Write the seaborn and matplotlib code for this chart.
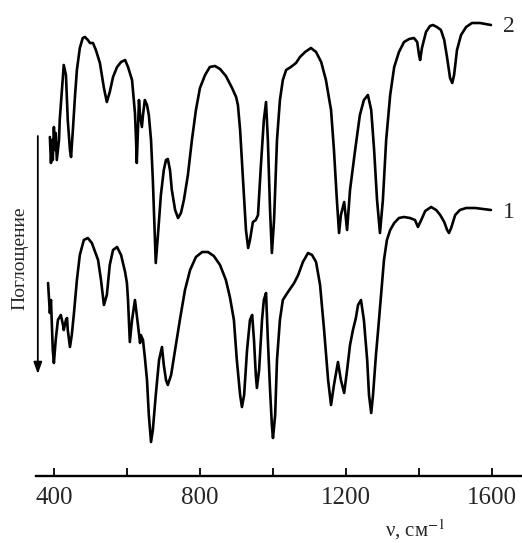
import numpy as np
import pandas as pd
import seaborn as sns
import matplotlib
matplotlib.use("Agg")
import matplotlib.pyplot as plt

# ---------------- data ----------------
# spectrum 2 (upper trace): wavenumber, cm-1 and transmission (arbitrary units)
nu2 = [389, 392, 395, 397, 400, 403, 405, 408, 414, 416, 422, 427, 433, 438, 444, 447,
       452, 458, 463, 471, 479, 485, 493, 499, 507, 515, 526, 537, 545, 553, 562, 573,
       584, 595, 603, 614, 619, 622, 625, 627, 630, 633, 636, 641, 644, 649, 655, 660,
       666, 671, 677, 679, 685, 693, 701, 707, 712, 718, 723, 732, 740, 748, 756, 767,
       778, 789, 800, 814, 827, 841, 855, 871, 888, 899, 904, 910, 918, 926, 932, 937,
       945, 953, 959, 967, 975, 981, 986, 992, 997, 1003, 1011, 1019, 1027, 1036, 1049,
       1063, 1074, 1088, 1104, 1118, 1132, 1145, 1159, 1167, 1175, 1181, 1186, 1195,
       1200, 1203, 1211, 1225, 1238, 1249, 1260, 1269, 1277, 1285, 1293, 1301, 1310,
       1321, 1332, 1345, 1359, 1373, 1386, 1395, 1400, 1403, 1408, 1419, 1430, 1438,
       1449, 1460, 1469, 1477, 1485, 1491, 1496, 1504, 1515, 1529, 1545, 1567, 1597]
t2 = [339, 313, 336, 316, 349, 326, 343, 316, 336, 356, 386, 411, 401, 356, 326, 319,
      346, 381, 406, 428, 438, 439, 436, 433, 433, 426, 413, 388, 374, 384, 399, 409,
      414, 416, 409, 396, 376, 363, 336, 313, 346, 376, 361, 349, 361, 376, 371, 361,
      336, 296, 236, 213, 241, 281, 306, 316, 317, 306, 286, 266, 258, 263, 276, 301,
      336, 366, 388, 401, 409, 410, 407, 400, 388, 379, 371, 346, 296, 246, 228, 236,
      254, 256, 261, 311, 356, 374, 336, 266, 223, 256, 336, 376, 396, 406, 409,
      413, 419, 424, 428, 424, 414, 396, 366, 326, 276, 243, 261, 274,
      256, 246, 286, 326, 361, 376, 381, 366, 326, 276, 243, 276, 336,
      381, 409, 424, 434, 437, 438, 434, 421, 416, 428, 444, 450, 451,
      449, 446, 436, 418, 398, 393, 401, 426, 441, 449, 453, 453, 451]

# spectrum 1 (lower trace)
nu1 = [384, 386, 389, 392, 395, 397, 400, 405, 411, 419, 425, 427, 433, 436, 438, 444,
       449, 455, 463, 471, 482, 493, 504, 521, 529, 537, 545, 553, 562, 573, 584, 595,
       600, 603, 608, 614, 622, 627, 636, 638, 644, 649, 655, 660, 666, 671, 679, 688,
       696, 701, 707, 712, 721, 732, 745, 759, 773, 789, 806, 822, 838, 855, 871, 882,
       893, 901, 910, 915, 921, 929, 937, 943, 948, 953, 956, 962, 970, 975, 981, 986,
       992, 997, 1000, 1006, 1011, 1019, 1027, 1041, 1058, 1069, 1082, 1096, 1107, 1118,
       1129, 1140, 1151, 1159, 1167, 1178, 1186, 1195, 1203, 1211, 1219, 1227, 1233,
       1241, 1249, 1258, 1263, 1269, 1274, 1282, 1288, 1296, 1304, 1312, 1321, 1332,
       1345, 1359, 1375, 1389, 1397, 1406, 1417, 1433, 1447, 1458, 1469, 1477, 1482,
       1488, 1499, 1512, 1529, 1554, 1575, 1597]
t1 = [193, 181, 163, 176, 146, 126, 113, 136, 156, 161, 151, 146, 156, 158, 146, 129,
      141, 163, 196, 221, 236, 238, 233, 216, 196, 171, 181, 211, 226, 229, 221, 204,
      193, 176, 134, 156, 176, 161, 133, 141, 136, 119, 96, 61, 34, 46, 81, 116,
      129, 111, 96, 91, 101, 126, 156, 186, 206, 219, 224, 224, 220, 211, 196, 179,
      156, 116, 81, 69, 81, 126, 156, 161, 136, 101, 88, 106, 156, 176, 183, 136,
      86, 51, 38, 61, 116, 156, 176, 184, 193, 201, 214, 223, 221, 214,
      191, 146, 96, 71, 91, 114, 96, 83, 106, 131, 146, 158, 171,
      176, 156, 116, 81, 63, 81, 121, 146, 181, 216, 236, 246, 253,
      258, 259, 258, 256, 249, 256, 265, 269, 266, 261, 254, 246, 243,
      248, 261, 266, 268, 268, 267, 266]

xticks_major = [400, 800, 1200, 1600]
xticks_minor = [600, 1000, 1400]
curve_labels = ["2", "1"]
xlabel = "ν, см$^{-1}$"
ylabel = "Поглощение"

# ---------------- plot ----------------
sns.set_style("white")
plt.rcParams["font.family"] = ["Liberation Serif", "DejaVu Serif"]
plt.rcParams["mathtext.fontset"] = "stix"

fig = plt.figure(figsize=(5.22, 5.43), dpi=100)
ax = fig.add_axes([36 / 522, 67 / 543, 1 - 36 / 522, 466 / 543])

df1 = pd.DataFrame({"nu": nu1, "t": t1})
df2 = pd.DataFrame({"nu": nu2, "t": t2})
for df in (df2, df1):
    sns.lineplot(data=df, x="nu", y="t", color="black", lw=1.9, ax=ax,
                 estimator=None, sort=False, solid_joinstyle="round")

ax.set_xlim(351, 1682)
ax.set_ylim(0, 466)
ax.set_xlabel("")
ax.set_ylabel("")
ax.set_yticks([])
ax.set_xticks(xticks_major)
ax.set_xticks(xticks_minor, minor=True)
ax.tick_params(axis="x", which="both", direction="in", length=6, width=1.3,
               labelsize=18, pad=8, color="black", bottom=True)
for s in ["top", "right", "left"]:
    ax.spines[s].set_visible(False)
ax.spines["bottom"].set_linewidth(1.7)
ax.spines["bottom"].set_color("black")

# curve labels
ax.text(1630, t2[-1] - 2, curve_labels[0], fontsize=17, va="center", ha="left")
ax.text(1630, t1[-1] - 3, curve_labels[1], fontsize=17, va="center", ha="left")

# absorption arrow
ax.annotate("", xy=(356, 102), xytext=(356, 340),
            arrowprops=dict(arrowstyle="-|>,head_width=0.25,head_length=0.7",
                            color="black", lw=1.3, shrinkA=0, shrinkB=0))
fig.text(20 / 522, 1 - 258 / 543, ylabel, rotation=90, fontsize=14,
         ha="center", va="center")

fig.text(415 / 522, 1 - 530 / 543, xlabel, fontsize=15, ha="center", va="center")

fig.savefig("out.png", dpi=100)
